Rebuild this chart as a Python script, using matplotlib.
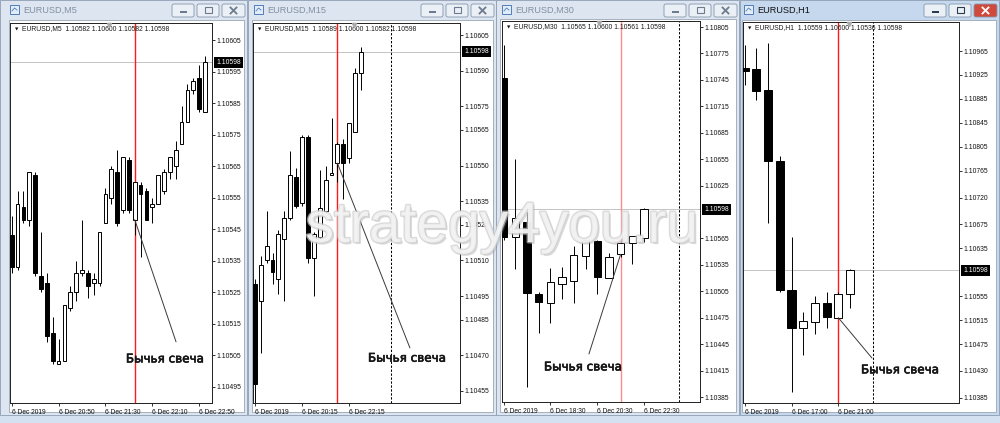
import matplotlib
matplotlib.use("Agg")
import matplotlib.pyplot as plt
from matplotlib.patches import Rectangle, FancyBboxPatch
import matplotlib.patheffects as pe

plt.rcParams["font.family"] = ["Liberation Sans", "DejaVu Sans"]

# EURUSD M5
m5_open = [1.10543, 1.10533, 1.10552, 1.10548, 1.10562, 1.10530, 1.10528, 1.10512, 1.10502, 1.10503,
           1.10520, 1.10525, 1.10531, 1.10531, 1.10528, 1.10528, 1.10547, 1.10555, 1.10563, 1.10551,
           1.10567, 1.10548, 1.10559, 1.10557, 1.10552, 1.10553, 1.10557, 1.10563, 1.10565, 1.10572,
           1.10579, 1.10589, 1.10593, 1.10582]
m5_high = [1.10549, 1.10557, 1.10557, 1.10563, 1.10563, 1.10544, 1.10531, 1.10517, 1.10510, 1.10521,
           1.10527, 1.10535, 1.10548, 1.10532, 1.10531, 1.10544, 1.10558, 1.10565, 1.10570, 1.10568,
           1.10568, 1.10560, 1.10560, 1.10558, 1.10555, 1.10562, 1.10564, 1.10568, 1.10573, 1.10584,
           1.10591, 1.10593, 1.10597, 1.10600]
m5_low = [1.10531, 1.10532, 1.10547, 1.10546, 1.10530, 1.10525, 1.10509, 1.10502, 1.10502, 1.10503,
          1.10519, 1.10522, 1.10530, 1.10523, 1.10524, 1.10527, 1.10547, 1.10553, 1.10546, 1.10550,
          1.10550, 1.10543, 1.10536, 1.10548, 1.10547, 1.10553, 1.10556, 1.10561, 1.10561, 1.10572,
          1.10579, 1.10588, 1.10582, 1.10582]
m5_close = [1.10533, 1.10553, 1.10548, 1.10563, 1.10531, 1.10526, 1.10511, 1.10503, 1.10503, 1.10521,
            1.10525, 1.10531, 1.10532, 1.10527, 1.10529, 1.10544, 1.10556, 1.10564, 1.10547, 1.10568,
            1.10551, 1.10560, 1.10556, 1.10548, 1.10553, 1.10562, 1.10563, 1.10568, 1.10570, 1.10579,
            1.10589, 1.10592, 1.10583, 1.10598]
m5_price_ticks = [1.10605, 1.10595, 1.10585, 1.10575, 1.10565, 1.10555, 1.10545, 1.10535,
                  1.10525, 1.10515, 1.10505, 1.10495]
m5_time_pos = [0, 8, 16, 24, 32]
m5_time_labels = ["6 Dec 2019", "6 Dec 20:50", "6 Dec 21:30", "6 Dec 22:10", "6 Dec 22:50"]

# EURUSD M15
m15_open = [1.10500, 1.10493, 1.10510, 1.10510, 1.10502, 1.10519, 1.10528, 1.10545, 1.10534, 1.10562,
            1.10511, 1.10520, 1.10531, 1.10546, 1.10551, 1.10559, 1.10553, 1.10564, 1.10589]
m15_high = [1.10502, 1.10512, 1.10531, 1.10513, 1.10523, 1.10531, 1.10556, 1.10549, 1.10563, 1.10563,
            1.10522, 1.10548, 1.10550, 1.10570, 1.10560, 1.10561, 1.10568, 1.10591, 1.10600]
m15_low = [1.10450, 1.10471, 1.10509, 1.10500, 1.10496, 1.10493, 1.10527, 1.10532, 1.10533, 1.10509,
           1.10495, 1.10519, 1.10530, 1.10546, 1.10543, 1.10536, 1.10551, 1.10564, 1.10582]
m15_close = [1.10458, 1.10508, 1.10516, 1.10505, 1.10521, 1.10528, 1.10546, 1.10533, 1.10562, 1.10511,
             1.10521, 1.10532, 1.10544, 1.10547, 1.10559, 1.10551, 1.10568, 1.10589, 1.10598]
m15_price_ticks = [1.10605, 1.10590, 1.10575, 1.10565, 1.10550, 1.10535, 1.10525, 1.10510,
                   1.10495, 1.10485, 1.10470, 1.10455]
m15_time_pos = [0, 8, 16]
m15_time_labels = ["6 Dec 2019", "6 Dec 20:15", "6 Dec 22:15"]

# EURUSD M30
m30_open = [1.10747, 1.10567, 1.10584, 1.10502, 1.10492, 1.10513, 1.10517, 1.10545, 1.10562, 1.10520,
            1.10547, 1.10560, 1.10565]
m30_high = [1.10785, 1.10655, 1.10595, 1.10504, 1.10531, 1.10533, 1.10556, 1.10563, 1.10563, 1.10548,
            1.10560, 1.10568, 1.10600]
m30_low = [1.10563, 1.10530, 1.10396, 1.10458, 1.10469, 1.10496, 1.10492, 1.10530, 1.10502, 1.10520,
           1.10544, 1.10536, 1.10561]
m30_close = [1.10567, 1.10588, 1.10503, 1.10493, 1.10516, 1.10521, 1.10546, 1.10563, 1.10521, 1.10544,
             1.10560, 1.10568, 1.10598]
m30_price_ticks = [1.10805, 1.10775, 1.10745, 1.10715, 1.10685, 1.10655, 1.10625, 1.10565,
                   1.10535, 1.10505, 1.10475, 1.10445, 1.10415, 1.10385]
m30_time_pos = [0, 4, 8, 12]
m30_time_labels = ["6 Dec 2019", "6 Dec 18:30", "6 Dec 20:30", "6 Dec 22:30"]

# EURUSD H1
h1_open = [1.10937, 1.10935, 1.10900, 1.10781, 1.10565, 1.10502, 1.10512, 1.10544, 1.10519, 1.10559]
h1_high = [1.10975, 1.10970, 1.10978, 1.10789, 1.10654, 1.10529, 1.10555, 1.10562, 1.10562, 1.10600]
h1_low = [1.10908, 1.10883, 1.10677, 1.10562, 1.10395, 1.10457, 1.10492, 1.10502, 1.10518, 1.10536]
h1_close = [1.10932, 1.10898, 1.10781, 1.10565, 1.10502, 1.10514, 1.10544, 1.10520, 1.10559, 1.10598]
h1_price_ticks = [1.10965, 1.10925, 1.10885, 1.10845, 1.10805, 1.10765, 1.10720, 1.10675,
                  1.10635, 1.10555, 1.10515, 1.10475, 1.10430, 1.10385]
h1_time_pos = [0, 4, 8]
h1_time_labels = ["6 Dec 2019", "6 Dec 17:00", "6 Dec 21:00"]

note_text = "Бычья свеча"

W, H = 1000, 423
fig = plt.figure(figsize=(10, 4.23), dpi=100)

bg = fig.add_axes([0, 0, 1, 1], zorder=0)
bg.set_xlim(0, W)
bg.set_ylim(H, 0)
bg.axis("off")
bg.add_patch(Rectangle((0, 0), W, H, fc="#d4e1f1", ec="none"))


def window(x0, x1, title, icon_x, active, client):
    frame = "#c6d8ee" if active else "#dce5f0"
    bg.add_patch(Rectangle((x0, 0), x1 - x0, 415, fc=frame, ec="#8d9db2", lw=0.6))
    cx0, cy0, cx1, cy1 = client
    bg.add_patch(Rectangle((cx0, cy0), cx1 - cx0, cy1 - cy0, fc="white", ec="#9aa6b5", lw=0.6))
    # small chart icon
    bg.add_patch(Rectangle((icon_x, 5), 9, 9, fc="#e3edf9", ec="#4f7db8", lw=0.7))
    bg.plot([icon_x + 2, icon_x + 4.5, icon_x + 7], [11, 8, 10], color="#4f7db8", lw=0.6)
    bg.text(icon_x + 13, 10, title, fontsize=6.6, va="center", ha="left",
            color="#111111" if active else "#8390a2")
    # min / max / close buttons
    glyph = "#2d3b4f" if active else "#6d7b8e"
    for k, (bx0, bx1) in enumerate([(x1 - 75, x1 - 53), (x1 - 50, x1 - 28), (x1 - 25, x1 - 2)]):
        face = "#ebf0f7"
        if k == 2 and active:
            face = "#cf4a3c"
        bg.add_patch(FancyBboxPatch((bx0, 4), bx1 - bx0, 13, boxstyle="round,pad=0,rounding_size=2",
                                    fc=face, ec="#8496ad", lw=0.6))
        cx = (bx0 + bx1) / 2
        if k == 0:
            bg.add_patch(Rectangle((cx - 3.5, 11), 7, 2, fc=glyph, ec="none"))
        elif k == 1:
            bg.add_patch(Rectangle((cx - 3.5, 7.5), 7, 5.5, fc="none", ec=glyph, lw=0.8))
        else:
            col = "white" if active else glyph
            bg.plot([cx - 3, cx + 3], [7.5, 13.5], color=col, lw=1.3)
            bg.plot([cx - 3, cx + 3], [13.5, 7.5], color=col, lw=1.3)


window(0, 247, "EURUSD,M5", 10, False, (9, 20, 244, 412))
window(248, 496, "EURUSD,M15", 254, False, (252, 20, 493, 412))
window(496, 739, "EURUSD,M30", 502, False, (500, 19, 736, 412))
window(740, 999, "EURUSD,H1", 744, True, (742, 20, 996, 412))


def chart(frame, x_first, x_step, p_ref, y_ref, px_unit, o, h, l, c, body_w,
          price_ticks, time_pos, time_labels, tf, red_at, red_col, dash_at, line_end, text_at):
    x0, y0, x1, y1 = frame
    ax = fig.add_axes([x0 / W, 1 - y1 / H, (x1 - x0) / W, (y1 - y0) / H], zorder=2)
    ax.set_facecolor("none")
    ax.set_xlim((x0 - x_first) / x_step, (x1 - x_first) / x_step)
    ax.set_ylim(p_ref - (y1 - y_ref) / px_unit, p_ref + (y_ref - y0) / px_unit)
    for s in ax.spines.values():
        s.set_linewidth(0.7)
        s.set_color("#202020")

    last = c[-1]
    ax.axhline(last, color="#c4c4c4", lw=0.7, zorder=1)
    ax.axvline(red_at, color=red_col, lw=1.0, zorder=1)
    if dash_at is not None:
        ax.axvline(dash_at, color="black", lw=0.75, ls=(0, (2.2, 1.6)), zorder=1)

    for i in range(len(o)):
        up = c[i] >= o[i]
        lo, hi = min(o[i], c[i]), max(o[i], c[i])
        ax.vlines(i, l[i], h[i], color="black", lw=0.7, zorder=2)
        ax.bar(i, max(hi - lo, 2e-6), bottom=lo, width=body_w,
               color="white" if up else "black", edgecolor="black", lw=0.7, zorder=3)

    ax.yaxis.tick_right()
    ax.set_yticks(price_ticks)
    ax.set_yticklabels([f"{p:.5f}" for p in price_ticks])
    ax.tick_params(axis="y", direction="out", length=2, width=0.6, pad=1.5, labelsize=4.9,
                   colors="#111111")
    ax.set_xticks(time_pos)
    ax.set_xticklabels(time_labels)
    ax.tick_params(axis="x", direction="out", length=2.5, width=0.6, pad=1.5, labelsize=4.8,
                   colors="#111111")
    for lab in ax.get_xticklabels():
        lab.set_ha("left")

    pw = x1 - x0
    ph = y1 - y0
    ax.text(1 + 4 / pw, last, f"{last:.5f}", transform=ax.get_yaxis_transform(), ha="left",
            va="center", fontsize=4.9, color="white",
            bbox=dict(boxstyle="square,pad=0.3", fc="black", ec="none"), zorder=6, clip_on=False)

    # header line with OHLC of the last bar
    ax.text(5 / pw, 1 - 6 / ph, "▼", transform=ax.transAxes, fontsize=3.2, va="center",
            ha="left", family="DejaVu Sans", color="#111111")
    ax.text(12 / pw, 1 - 6 / ph,
            f"EURUSD,{tf}  {o[-1]:.5f} {h[-1]:.5f} {l[-1]:.5f} {c[-1]:.5f}",
            transform=ax.transAxes, fontsize=4.9, va="center", ha="left", color="#1a1a1a")
    ax.plot([0.49], [1 - 1.5 / ph], marker="v", ms=3, color="#a9a9a9",
            transform=ax.transAxes, clip_on=False, zorder=5)

    ax.annotate("", xy=(red_at, o[red_at]), xytext=line_end, textcoords="axes fraction",
                arrowprops=dict(arrowstyle="-", color="#3a3a3a", lw=0.7, shrinkA=0, shrinkB=0),
                zorder=4)
    ax.text(text_at[0], text_at[1], note_text, transform=ax.transAxes, ha="center",
            va="center", fontsize=8.6, family="DejaVu Sans", color="#151515", zorder=5,
            path_effects=[pe.withStroke(linewidth=0.45, foreground="#151515")])
    return ax


chart((10, 23, 212, 403), 11.7, 5.857, 1.10605, 40, 315000,
      m5_open, m5_high, m5_low, m5_close, 0.62, m5_price_ticks, m5_time_pos, m5_time_labels,
      "M5", 21, "#ff1a1a", None, (0.822, 0.161), (0.767, 0.116))
chart((253, 23, 460, 403), 254.8, 5.9, 1.10605, 35, 237300,
      m15_open, m15_high, m15_low, m15_close, 0.65, m15_price_ticks, m15_time_pos, m15_time_labels,
      "M15", 14, "#ff1a1a", 23, (0.758, 0.145), (0.744, 0.118))
chart((502, 21, 700, 402), 503.6, 11.7, 1.10805, 27, 88100,
      m30_open, m30_high, m30_low, m30_close, 0.62, m30_price_ticks, m30_time_pos, m30_time_labels,
      "M30", 10, "#ff8a8a", 15, (0.439, 0.126), (0.409, 0.092))
chart((743, 22, 959, 403), 744.7, 11.7, 1.10965, 51, 59800,
      h1_open, h1_high, h1_low, h1_close, 0.7, h1_price_ticks, h1_time_pos, h1_time_labels,
      "H1", 8, "#ff1a1a", 11, (0.597, 0.118), (0.727, 0.087))

# site watermark across the middle windows
fig.text(0.502, 1 - 242 / H, "strategy4you.ru", ha="center", va="baseline", fontsize=41,
         color="#f4f4f4", alpha=0.85, zorder=10,
         path_effects=[pe.SimplePatchShadow(offset=(1.5, -1.5), shadow_rgbFace="#8c8c8c", alpha=0.3),
                       pe.Stroke(linewidth=2, foreground="#cdcdcd", alpha=0.7),
                       pe.Normal()])

fig.savefig("out.png", dpi=100)
